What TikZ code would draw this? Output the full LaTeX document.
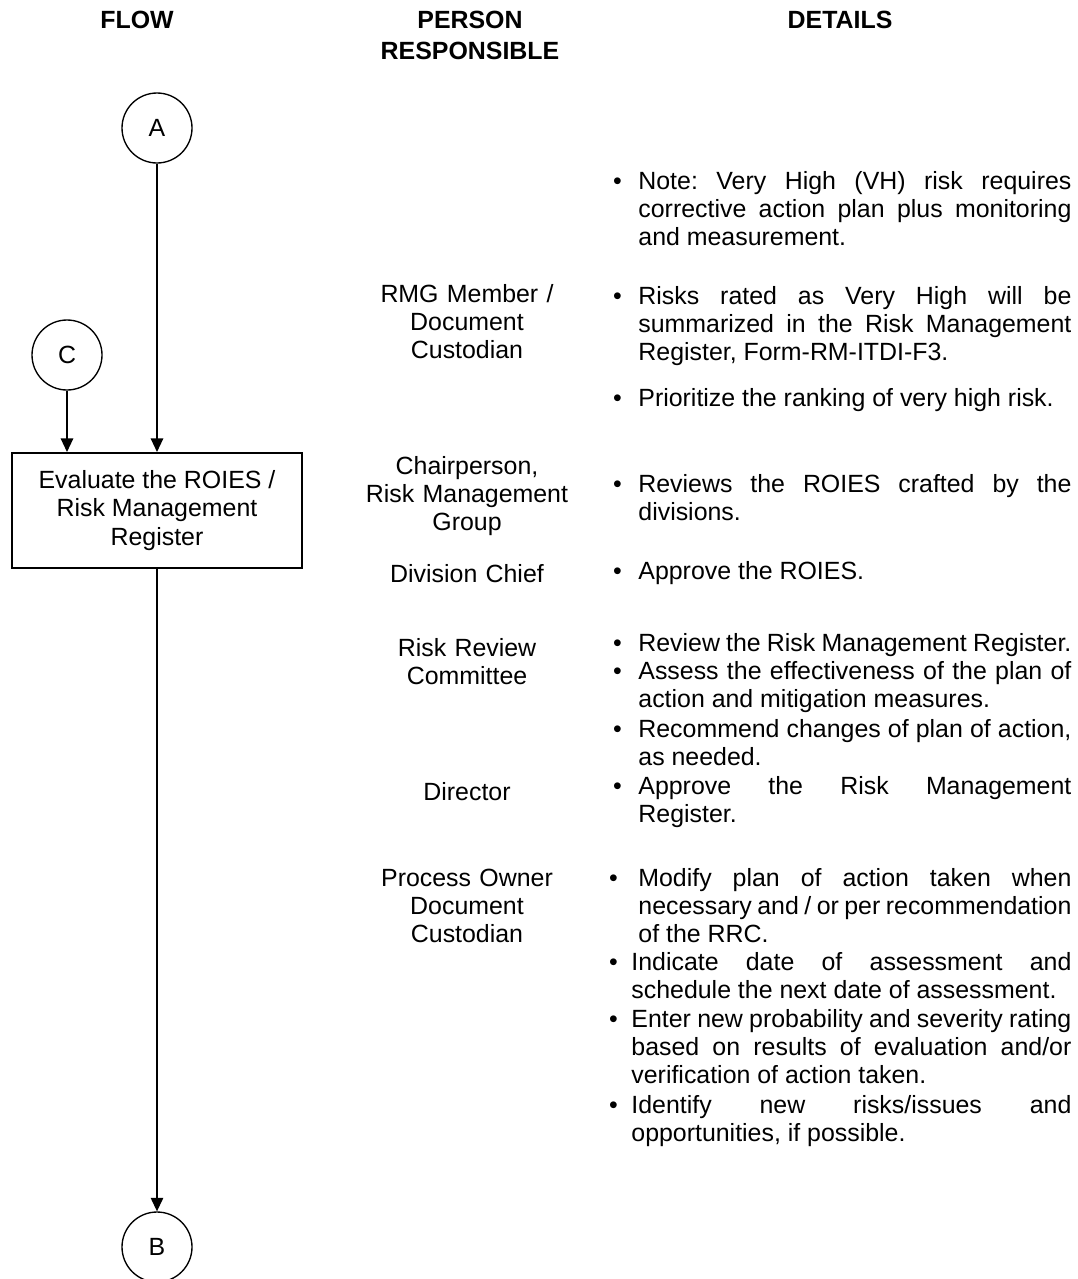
\documentclass[tikz,border=0pt]{standalone}
\usepackage{fontspec}
\setmainfont{Liberation Sans}
\usetikzlibrary{arrows.meta}
\frenchspacing
\hyphenpenalty=10000
\exhyphenpenalty=10000
\tolerance=10000
\hbadness=10000
\newcommand{\itemdot}[1]{\llap{\textbullet\hspace{#1}}}
\tikzset{colhead/.style={anchor=base,inner sep=0pt,text width=2in,align=center,font=\fontsize{12}{15.4}\selectfont\bfseries},joint/.style={circle,draw,line width=.65pt,minimum size=.46667in,inner sep=0pt,font=\fontsize{12}{14}\selectfont},task/.style={draw,line width=1pt,minimum width=1.93333in,minimum height=.76667in,inner sep=0pt,align=center,font=\fontsize{12}{13.68}\selectfont},who/.style={anchor=base,inner sep=0pt,text width=1.5in,align=center,font=\fontsize{12}{13.68}\selectfont},detail/.style={anchor=base west,inner sep=0pt,text width=2.88667in,align=justify,font=\fontsize{12}{13.68}\selectfont},wide/.style={text width=2.93333in},flow/.style={line width=.65pt,-{Triangle[length=6.5pt,width=6pt]}}}

\begin{document}
\begin{tikzpicture}[x=1in,y=-1in]
\path[use as bounding box] (0,0) rectangle (7.18667,8.52667);
% column heads
\node[colhead] (hFlow) at (0.91333,0.18667) {FLOW};
\node[colhead] (hPerson) at (3.13333,0.18667) {PERSON\\RESPONSIBLE};
\node[colhead] (hDetails) at (5.60000,0.18667) {DETAILS};
% flow
\node[joint] (cA) at (1.04667,0.85333) {A};
\node[joint] (cC) at (0.44667,2.36667) {C};
\node[task] (eval) at (1.04667,3.40333) {Evaluate the ROIES /\\Risk Management\\Register};
\node[joint] (cB) at (1.04667,8.31333) {B};
\draw[flow] (cA) -- (eval);
\draw[flow] (cC) -- (cC |- eval.north);
\draw[flow] (eval) -- (cB);
% person responsible
\node[who] (pRmg) at (3.11333,2.01333) {RMG Member /\\Document\\Custodian};
\node[who] (pChair) at (3.11333,3.16000) {Chairperson,\\Risk Management\\Group};
\node[who] (pChief) at (3.11333,3.88000) {Division Chief};
\node[who] (pRrc) at (3.11333,4.37333) {Risk Review\\Committee};
\node[who] (pDir) at (3.11333,5.33333) {Director};
\node[who] (pOwner) at (3.11333,5.90667) {Process Owner\\Document\\Custodian};
% details
\node[detail] (dNote) at (4.25333,1.26000) {\itemdot{8pt}Note: Very High (VH) risk requires\linebreak corrective action plan plus monitoring\linebreak and measurement.};
\node[detail] (dRisks) at (4.25333,2.02667) {\itemdot{8pt}Risks rated as Very High will be\linebreak summarized in the Risk Management\linebreak Register, Form-RM-ITDI-F3.};
\node[detail] (dPrior) at (4.25333,2.70667) {\itemdot{8pt}Prioritize the ranking of very high risk.};
\node[detail] (dReview) at (4.25333,3.28000) {\itemdot{8pt}Reviews the ROIES crafted by the\linebreak divisions.};
\node[detail] (dApprove) at (4.25333,3.86000) {\itemdot{8pt}Approve the ROIES.};
\node[detail] (dRegister) at (4.25333,4.34000) {\itemdot{8pt}Review the Risk Management Register.};
\node[detail] (dAssess) at (4.25333,4.52667) {\itemdot{8pt}Assess the effectiveness of the plan of\linebreak action and mitigation measures.};
\node[detail] (dRecommend) at (4.25333,4.91333) {\itemdot{8pt}Recommend changes of plan of action,\linebreak as needed.};
\node[detail] (dApproveRm) at (4.25333,5.29333) {\itemdot{8pt}Approve the Risk Management\linebreak Register.};
\node[detail] (dModify) at (4.25333,5.90667) {\itemdot{9.9pt}Modify plan of action taken when\linebreak necessary and / or per recommendation\linebreak of the RRC.};
\node[detail,wide] (dIndicate) at (4.20667,6.46667) {\itemdot{6.5pt}Indicate date of assessment and\linebreak schedule the next date of assessment.};
\node[detail,wide] (dEnter) at (4.20667,6.84667) {\itemdot{6.5pt}Enter new probability and severity rating\linebreak based on results of evaluation and/or\linebreak verification of action taken.};
\node[detail,wide] (dIdentify) at (4.20667,7.42000) {\itemdot{6.5pt}Identify new risks/issues and\linebreak opportunities, if possible.};
\end{tikzpicture}
\end{document}
